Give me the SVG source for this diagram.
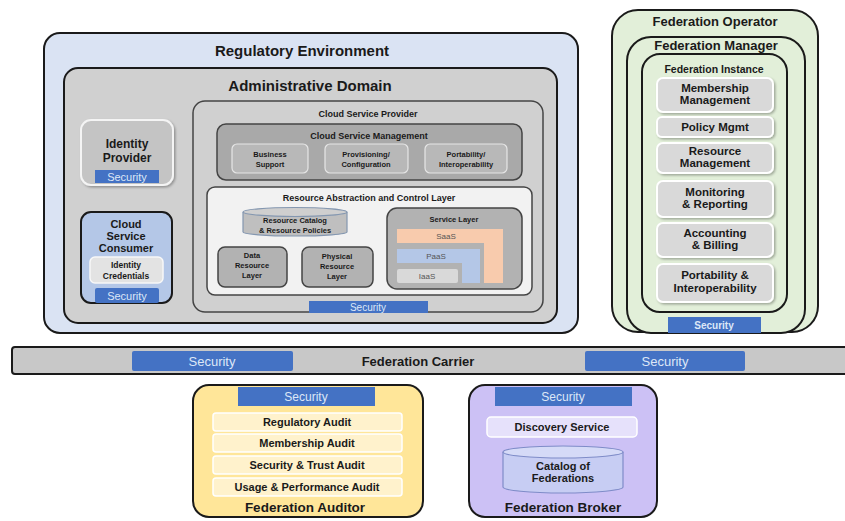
<svg xmlns="http://www.w3.org/2000/svg" width="845" height="521" viewBox="0 0 845 521">
  <style>
    text { font-family: "Liberation Sans", Arial, sans-serif; font-weight: bold; fill: #1a1a1a; text-anchor: middle; }
    .sec { fill: #4472c4; }
    .sect { font-family: "Liberation Sans Narrow", "Liberation Sans", Arial, sans-serif; font-weight: normal; fill: #dde7f7; }
    .sectb { font-weight: bold; }
    .lay { font-weight: normal; fill: #555555; }
    .edge { stroke: #1a1a1a; stroke-width: 2; }
    .soft { stroke: #444; stroke-width: 1.5; }
    .item { fill: #d9d9d9; stroke: #ffffff; stroke-width: 2; }
    .audit { fill: #fff2cc; stroke: #ffffff; stroke-width: 1.5; }
  </style>
  <defs>
    <filter id="sh" x="-10%" y="-10%" width="130%" height="130%">
      <feDropShadow dx="1.5" dy="1.5" stdDeviation="1" flood-color="#000" flood-opacity="0.3"/>
    </filter>
  </defs>

  <rect width="845" height="521" fill="#ffffff"/>

  <!-- Regulatory environment -->
  <g id="regulatory-environment">
    <rect x="44" y="33" width="534" height="300" rx="16" fill="#dae3f3" class="edge"/>
    <text x="302" y="56" font-size="15">Regulatory Environment</text>
  </g>

  <g id="administrative-domain">
    <rect x="64" y="68" width="493" height="255" rx="14" fill="#d0d0d0" class="edge"/>
    <text x="310" y="91" font-size="15">Administrative Domain</text>
  </g>

  <g id="identity-provider">
    <rect x="81" y="120" width="92" height="65" rx="10" fill="#c4c4c4" stroke="#f4f4f4" stroke-width="2" filter="url(#sh)"/>
    <text x="127" y="148" font-size="12">Identity</text>
    <text x="127" y="162" font-size="12">Provider</text>
    <rect x="95" y="170" width="64" height="13" class="sec"/>
    <text x="127" y="181" font-size="11" class="sect">Security</text>
  </g>

  <g id="cloud-service-consumer">
    <rect x="81" y="212" width="91" height="91" rx="10" fill="#b4c7e7" class="edge"/>
    <text x="126" y="228" font-size="11">Cloud</text>
    <text x="126" y="240" font-size="11">Service</text>
    <text x="126" y="252" font-size="11">Consumer</text>
    <rect x="90" y="257" width="73" height="26" rx="5" fill="#e3e3e3" stroke="#f8f8f8" stroke-width="1.5"/>
    <text x="126" y="268" font-size="8.5">Identity</text>
    <text x="126" y="279" font-size="8.5">Credentials</text>
    <rect x="95" y="288" width="64" height="15" rx="2" class="sec"/>
    <text x="127" y="300" font-size="11" class="sect">Security</text>
  </g>

  <!-- Cloud service provider -->
  <g id="cloud-service-provider">
    <rect x="193" y="101" width="350" height="211" rx="12" fill="#d0d0d0" class="soft"/>
    <text x="368" y="117" font-size="9">Cloud Service Provider</text>
    <rect x="309" y="301" width="119" height="12" class="sec"/>
    <text x="368" y="311" font-size="10" class="sect">Security</text>
  </g>

  <g id="cloud-service-management">
    <rect x="217" y="124" width="305" height="56" rx="9" fill="#a9a9a9" class="soft"/>
    <text x="369" y="139" font-size="9">Cloud Service Management</text>
    <rect x="232" y="144" width="76" height="29" rx="5" fill="#b8b8b8" stroke="#e6e6e6" stroke-width="1.2"/>
    <text x="270" y="157" font-size="7.5">Business</text>
    <text x="270" y="167" font-size="7.5">Support</text>
    <rect x="325" y="144" width="83" height="29" rx="5" fill="#b8b8b8" stroke="#e6e6e6" stroke-width="1.2"/>
    <text x="366" y="157" font-size="7.5">Provisioning/</text>
    <text x="366" y="167" font-size="7.5">Configuration</text>
    <rect x="425" y="144" width="82" height="29" rx="5" fill="#b8b8b8" stroke="#e6e6e6" stroke-width="1.2"/>
    <text x="466" y="157" font-size="7.5">Portability/</text>
    <text x="466" y="167" font-size="7.5">Interoperability</text>
  </g>

  <g id="resource-abstraction-layer">
    <rect x="207" y="187" width="325" height="108" rx="8" fill="#f2f2f2" class="soft"/>
    <text x="369" y="201" font-size="9">Resource Abstraction and Control Layer</text>
  </g>

  <g id="resource-catalog">
    <path d="M243 212 L243 232 A52 4 0 0 0 347 232 L347 212" fill="#bfbfbf" stroke="#8497b0" stroke-width="1.2"/>
    <ellipse cx="295" cy="212" rx="52" ry="4.5" fill="#cfcfcf" stroke="#8497b0" stroke-width="1.2"/>
    <text x="295" y="223" font-size="7.5">Resource Catalog</text>
    <text x="295" y="233" font-size="7.5">&amp; Resource Policies</text>
  </g>

  <g id="data-resource-layer">
    <rect x="218" y="247" width="69" height="40" rx="7" fill="#b2b2b2" class="soft"/>
    <text x="252" y="258" font-size="7.5">Data</text>
    <text x="252" y="268" font-size="7.5">Resource</text>
    <text x="252" y="278" font-size="7.5">Layer</text>
  </g>

  <g id="physical-resource-layer">
    <rect x="302" y="247" width="71" height="40" rx="7" fill="#b2b2b2" class="soft"/>
    <text x="337" y="259" font-size="7.5">Physical</text>
    <text x="337" y="269" font-size="7.5">Resource</text>
    <text x="337" y="279" font-size="7.5">Layer</text>
  </g>

  <g id="service-layer">
    <rect x="387" y="208" width="135" height="81" rx="10" fill="#b2b2b2" class="soft"/>
    <text x="454" y="222" font-size="7.5">Service Layer</text>
    <path d="M397 229 H503 V283 H484 V243 H397 Z" fill="#f8cbad"/>
    <text x="446" y="239" font-size="8" class="lay">SaaS</text>
    <path d="M397 249 H480 V283 H462 V263 H397 Z" fill="#b4c7e7"/>
    <text x="436" y="259" font-size="8" class="lay">PaaS</text>
    <rect x="397" y="269" width="61" height="14" rx="2" fill="#d9d9d9"/>
    <text x="427" y="279" font-size="8" class="lay">IaaS</text>
  </g>

  <!-- Federation stack -->
  <g id="federation-operator">
    <rect x="612" y="10" width="206" height="322" rx="26" fill="#e2efd9" class="edge"/>
    <text x="715" y="26" font-size="13">Federation Operator</text>
  </g>
  <g id="federation-manager">
    <rect x="627" y="37" width="178" height="296" rx="24" fill="#e2efd9" class="edge"/>
    <text x="716" y="50" font-size="13">Federation Manager</text>
  </g>
  <g id="federation-instance">
    <rect x="642" y="54" width="145" height="258" rx="18" fill="#e2efd9" class="edge"/>
    <text x="714" y="73" font-size="10.5">Federation Instance</text>
    <rect x="657" y="78" width="116" height="34" rx="6" class="item" filter="url(#sh)"/>
    <text x="715" y="92" font-size="11.5">Membership</text>
    <text x="715" y="104" font-size="11.5">Management</text>
    <rect x="657" y="117" width="116" height="20" rx="5" class="item" filter="url(#sh)"/>
    <text x="715" y="131" font-size="11.5">Policy Mgmt</text>
    <rect x="657" y="143" width="116" height="30" rx="6" class="item" filter="url(#sh)"/>
    <text x="715" y="155" font-size="11.5">Resource</text>
    <text x="715" y="167" font-size="11.5">Management</text>
    <rect x="657" y="181" width="116" height="36" rx="6" class="item" filter="url(#sh)"/>
    <text x="715" y="196" font-size="11.5">Monitoring</text>
    <text x="715" y="208" font-size="11.5">&amp; Reporting</text>
    <rect x="657" y="223" width="116" height="34" rx="6" class="item" filter="url(#sh)"/>
    <text x="715" y="237" font-size="11.5">Accounting</text>
    <text x="715" y="249" font-size="11.5">&amp; Billing</text>
    <rect x="657" y="264" width="116" height="38" rx="6" class="item" filter="url(#sh)"/>
    <text x="715" y="279" font-size="11.5">Portability &amp;</text>
    <text x="715" y="292" font-size="11.5">Interoperability</text>
  </g>
  <g id="federation-security">
    <rect x="668" y="317" width="93" height="16" class="sec"/>
    <text x="714" y="329" font-size="10" class="sect sectb">Security</text>
  </g>

  <!-- Carrier bar -->
  <g id="federation-carrier">
    <rect x="12" y="347" width="840" height="27" rx="3" fill="#c8c8c8" class="edge"/>
    <rect x="132" y="351" width="161" height="20" rx="2" class="sec"/>
    <text x="212" y="366" font-size="13" class="sect">Security</text>
    <rect x="585" y="351" width="160" height="20" rx="2" class="sec"/>
    <text x="665" y="366" font-size="13" class="sect">Security</text>
    <text x="418" y="366" font-size="13">Federation Carrier</text>
  </g>

  <!-- Auditor -->
  <g id="federation-auditor">
    <rect x="193" y="385" width="230" height="132" rx="16" fill="#ffe699" class="edge"/>
    <rect x="238" y="387" width="137" height="19" class="sec"/>
    <text x="306" y="401" font-size="12" class="sect">Security</text>
    <rect x="213" y="413" width="189" height="18" rx="3" class="audit"/>
    <text x="307" y="426" font-size="11">Regulatory Audit</text>
    <rect x="213" y="434" width="189" height="18" rx="3" class="audit"/>
    <text x="307" y="447" font-size="11">Membership Audit</text>
    <rect x="213" y="456" width="189" height="18" rx="3" class="audit"/>
    <text x="307" y="469" font-size="11">Security &amp; Trust Audit</text>
    <rect x="213" y="478" width="189" height="18" rx="3" class="audit"/>
    <text x="307" y="491" font-size="11">Usage &amp; Performance Audit</text>
    <text x="305" y="512" font-size="13.5">Federation Auditor</text>
  </g>

  <!-- Broker -->
  <g id="federation-broker">
    <rect x="469" y="385" width="188" height="132" rx="16" fill="#ccc1f5" class="edge"/>
    <rect x="495" y="387" width="137" height="19" class="sec"/>
    <text x="563" y="401" font-size="12" class="sect">Security</text>
    <rect x="487" y="417" width="150" height="20" rx="4" fill="#e6e1fb" stroke="#ffffff" stroke-width="1.5"/>
    <text x="562" y="431" font-size="11">Discovery Service</text>
    <path d="M503 452 L503 487 A60 6 0 0 0 623 487 L623 452" fill="#c7cdf3" stroke="#7f8cc8" stroke-width="1.2"/>
    <ellipse cx="563" cy="452" rx="60" ry="6" fill="#d5daf7" stroke="#7f8cc8" stroke-width="1.2"/>
    <text x="563" y="470" font-size="11">Catalog of</text>
    <text x="563" y="482" font-size="11">Federations</text>
    <text x="563" y="512" font-size="13.5">Federation Broker</text>
  </g>

  <g id="connectors"/>
</svg>
